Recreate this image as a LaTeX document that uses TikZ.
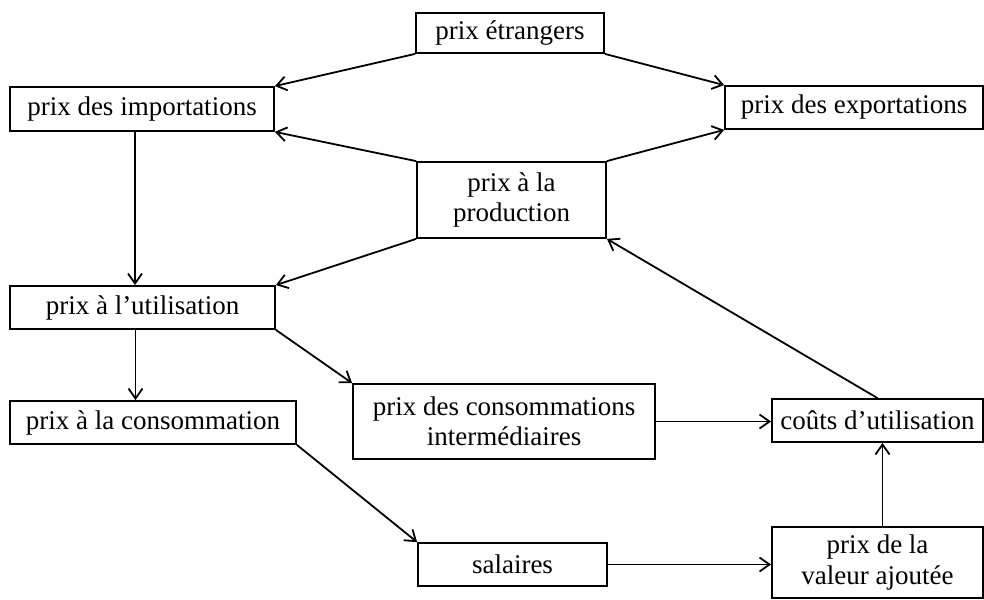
\documentclass[tikz,border=0pt]{standalone}
\usepackage{fontspec}
\setmainfont{Liberation Serif}
\usetikzlibrary{arrows.meta}
\begin{document}
\begin{tikzpicture}[x=1pt,y=-1pt,
  box/.style={draw, line width=1.8pt, inner sep=0pt, align=center,
    font=\fontsize{27}{30.5}\selectfont},
  arr/.style={line width=1.8pt, -{Straight Barb[length=10pt,width=14pt,line width=1.8pt]}}]
\useasboundingbox (0,0) rectangle (984,599);
\node[box, minimum width=188pt, minimum height=40pt] (etr) at (510,33) {prix étrangers};
\node[box, minimum width=264pt, minimum height=44pt] (imp) at (142,109) {prix des importations};
\node[box, minimum width=258pt, minimum height=43pt] (exp) at (854,107.5) {prix des exportations};
\node[box, minimum width=189pt, minimum height=76pt] (prod) at (511.5,200) {prix à la\\production};
\node[box, minimum width=265pt, minimum height=43pt] (util) at (142.5,307.5) {prix à l’utilisation};
\node[box, minimum width=286pt, minimum height=43pt] (cons) at (153,422.5) {prix à la consommation};
\node[box, minimum width=302pt, minimum height=75pt] (interm) at (504,421.5) {prix des consommations\\intermédiaires};
\node[box, minimum width=211pt, minimum height=43pt] (couts) at (877.5,420.5) {coûts d’utilisation};
\node[box, minimum width=189pt, minimum height=43pt] (sal) at (512.5,564.5) {salaires};
\node[box, minimum width=211pt, minimum height=71pt] (val) at (877.5,562.5) {prix de la\\valeur ajoutée};

\draw[arr] (etr.south west) -- (imp.north east);
\draw[arr] (etr.south east) -- (exp.north west);
\draw[arr] (prod.north west) -- (imp.south east);
\draw[arr] (prod.north east) -- (exp.south west);
\draw[arr] ([xshift=-7pt]imp.south) -- ([xshift=-7pt]imp.south |- util.north);
\draw[arr] (prod.south west) -- (util.north east);
\draw[arr] ([xshift=-7pt]util.south) -- ([xshift=-7pt]util.south |- cons.north);
\draw[arr] (util.south east) -- (interm.north west);
\draw[arr] (interm.east) -- (interm.east -| couts.west);
\draw[arr] (cons.south east) -- (sal.north west);
\draw[arr] (sal.east) -- (sal.east -| val.west);
\draw[arr] ([xshift=5pt]val.north) -- ([xshift=5pt]couts.south);
\draw[arr] (couts.north) -- (prod.south east);
\end{tikzpicture}
\end{document}
